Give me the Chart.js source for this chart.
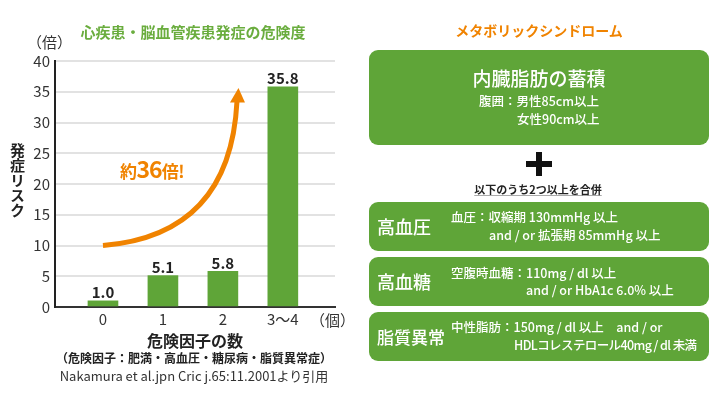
<!DOCTYPE html>
<html><head><meta charset="utf-8">
<script src="https://cdn.jsdelivr.net/npm/chart.js@4"></script>
<style>
html,body{margin:0;padding:0;background:#fff;}
#wrap{position:relative;width:720px;height:395px;overflow:hidden;font-family:"Noto Sans CJK JP","Noto Sans",sans-serif;}
.t{position:absolute;white-space:nowrap;line-height:1;}
.box{position:absolute;left:369px;width:340px;background:#5fa538;border-radius:9px;color:#fff;font-weight:500;}
</style></head>
<body><div id="wrap">
<div style="position:absolute;left:0;top:0;width:360px;height:395px;"><canvas id="c"></canvas></div>
<div class="t" style="left:193px;top:24px;transform:translateX(-50%);font-size:15px;font-weight:bold;color:#6aad3e;">心疾患・脳血管疾患発症の危険度</div>
<div class="t" style="left:27px;top:34px;font-size:15px;color:#333;">（倍）</div>
<div class="t" style="left:10px;top:143px;font-size:15px;font-weight:bold;color:#222;writing-mode:vertical-rl;text-orientation:upright;">発症リスク</div>
<div class="t" style="left:310px;top:312px;font-size:15px;color:#333;">（個）</div>
<div class="t" style="left:195px;top:332px;transform:translateX(-50%);font-size:16px;font-weight:bold;color:#222;">危険因子の数</div>
<div class="t" style="left:194px;top:352px;transform:translateX(-50%);font-size:12px;font-weight:bold;color:#222;">（危険因子：肥満・高血圧・糖尿病・脂質異常症）</div>
<div class="t" style="left:194px;top:369px;transform:translateX(-50%);font-size:13px;color:#333;">Nakamura et al.jpn Cric j.65:11.2001より引用</div>
<div class="t" style="left:120px;top:157px;color:#f08300;font-weight:bold;font-size:17px;letter-spacing:-0.5px;">約<span style="font-size:23px;letter-spacing:-1px;">36</span>倍!</div>

<div class="t" style="left:539px;top:23px;transform:translateX(-50%);font-size:14px;font-weight:bold;color:#f08300;">メタボリックシンドローム</div>
<div class="box" style="top:50px;height:95px;">
  <div class="t" style="left:0;width:340px;text-align:center;top:18px;font-size:19px;">内臓脂肪の蓄積</div>
  <div class="t" style="left:110px;top:45px;font-size:12.5px;">腹囲：男性85cm以上</div>
  <div class="t" style="left:148px;top:63px;font-size:12.5px;">女性90cm以上</div>
</div>
<div style="position:absolute;left:526px;top:161px;width:26px;height:6px;background:#111;"></div>
<div style="position:absolute;left:536px;top:152px;width:6px;height:24px;background:#111;"></div>
<div class="t" style="left:538px;top:184px;transform:translateX(-50%);font-size:11px;font-weight:bold;color:#222;text-decoration:underline;text-decoration-color:#aaa;">以下のうち2つ以上を合併</div>

<div class="box" style="top:202px;height:49px;">
  <div class="t" style="left:8px;top:15px;font-size:18px;">高血圧</div>
  <div class="t" style="left:82px;top:9px;font-size:12.5px;">血圧：収縮期 130mmHg 以上</div>
  <div class="t" style="left:120px;top:27px;font-size:12.5px;">and / or 拡張期 85mmHg 以上</div>
</div>
<div class="box" style="top:257px;height:49px;">
  <div class="t" style="left:8px;top:15px;font-size:18px;">高血糖</div>
  <div class="t" style="left:82px;top:10px;font-size:12.5px;">空腹時血糖：110mg / dl 以上</div>
  <div class="t" style="left:157px;top:27px;font-size:12.5px;">and / or HbA1c 6.0% 以上</div>
</div>
<div class="box" style="top:312px;height:49px;">
  <div class="t" style="left:8px;top:16px;font-size:17px;">脂質異常</div>
  <div class="t" style="left:82px;top:9px;font-size:12.5px;">中性脂肪：150mg / dl 以上　and / or</div>
  <div class="t" style="left:145px;top:27px;font-size:12.5px;letter-spacing:-0.6px;">HDLコレステロール40mg / dl 未満</div>
</div>
</div>
<script>
const categories = ['0', '1', '2', '3～4'];
const riskValues = [1.0, 5.1, 5.8, 35.8];
const yTicks = [0, 5, 10, 15, 20, 25, 30, 35, 40];

const valueLabels = {
  id: 'valueLabels',
  afterDatasetsDraw(chart) {
    const ctx = chart.ctx;
    const meta = chart.getDatasetMeta(0);
    ctx.save();
    ctx.font = 'bold 15px "Noto Sans CJK JP", sans-serif';
    ctx.fillStyle = '#222';
    ctx.textAlign = 'center';
    ctx.textBaseline = 'bottom';
    meta.data.forEach((bar, i) => {
      ctx.fillText(riskValues[i].toFixed(1), bar.x, bar.y - 1);
    });
    ctx.restore();
  }
};

const curveArrow = {
  id: 'curveArrow',
  afterDatasetsDraw(chart) {
    const x = chart.scales.x, y = chart.scales.y, ctx = chart.ctx;
    const p0 = [x.getPixelForValue(0), y.getPixelForValue(10)];
    const pc = [x.getPixelForValue(2.12), y.getPixelForValue(11.7)];
    const p1 = [x.getPixelForValue(2.235), y.getPixelForValue(33.4)];
    const tip = [x.getPixelForValue(2.26), y.getPixelForValue(35.6)];
    ctx.save();
    ctx.strokeStyle = '#f08300';
    ctx.fillStyle = '#f08300';
    ctx.lineWidth = 5;
    ctx.beginPath();
    ctx.moveTo(p0[0], p0[1]);
    ctx.quadraticCurveTo(pc[0], pc[1], p1[0], p1[1]);
    ctx.stroke();
    ctx.beginPath();
    ctx.moveTo(tip[0], tip[1]);
    ctx.lineTo(p1[0] - 7, p1[1] + 1);
    ctx.lineTo(p1[0] + 8, p1[1] + 1);
    ctx.closePath();
    ctx.fill();
    ctx.restore();
  }
};

new Chart(document.getElementById('c'), {
  type: 'bar',
  data: {
    datasets: [{
      data: categories.map((c, i) => ({x: i, y: riskValues[i]})),
      backgroundColor: '#5fa538',
      barThickness: 30
    }]
  },
  options: {
    responsive: true,
    maintainAspectRatio: false,
    animation: false,
    layout: {padding: {top: 61, right: 25, left: 0, bottom: 0}},
    plugins: {legend: {display: false}, tooltip: {enabled: false}},
    scales: {
      x: {
        type: 'linear',
        offset: false,
        min: -0.8,
        max: 3.87,
        afterBuildTicks: s => { s.ticks = categories.map((c, i) => ({value: i})); },
        afterFit: s => { s.height = 88; },
        ticks: {
          callback: (v) => categories[v] !== undefined ? categories[v] : '',
          font: {size: 15, family: '"Noto Sans CJK JP", sans-serif'},
          color: '#333',
          padding: 3,
          maxRotation: 0,
          autoSkip: false
        },
        grid: {display: false, drawTicks: false},
        border: {display: true, color: '#333', width: 2}
      },
      y: {
        min: 0,
        max: 40,
        afterBuildTicks: s => { s.ticks = yTicks.map(v => ({value: v})); },
        afterFit: s => { s.width = 55; },
        ticks: {
          font: {size: 15, family: '"Noto Sans CJK JP", sans-serif'},
          color: '#333',
          padding: 5
        },
        grid: {color: '#e2e2e2', lineWidth: 2, drawTicks: false},
        border: {display: true, color: '#222', width: 2}
      }
    }
  },
  plugins: [valueLabels, curveArrow]
});
</script>
</body></html>
